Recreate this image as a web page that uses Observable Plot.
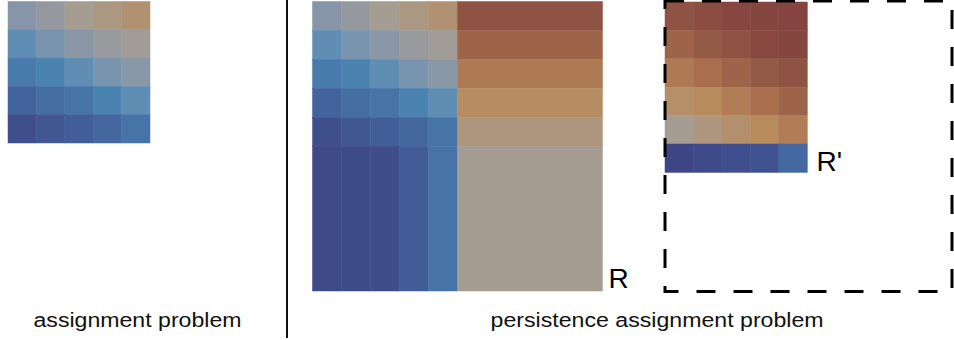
<!DOCTYPE html>
<html>
<head>
<meta charset="utf-8">
<script src="https://cdn.jsdelivr.net/npm/d3@7"></script>
<script src="https://cdn.jsdelivr.net/npm/@observablehq/plot@0.6"></script>
<style>
  html, body { margin: 0; padding: 0; background: #fff; }
  #chart svg { display: block; }
</style>
</head>
<body>
<div id="chart"></div>
<script>
// ---- data (values on a 0..10 cost scale) ----
const cost = [
  [4.9, 5.4, 6.0, 6.3, 6.6],
  [3.8, 4.5, 5.0, 5.5, 5.8],
  [2.8, 3.0, 3.8, 4.5, 5.0],
  [2.1, 2.4, 2.6, 3.0, 3.8],
  [1.0, 1.5, 1.9, 2.2, 2.6]
];
const rowToDiagonal = [9.3, 8.5, 7.6, 6.9, 6.4];
const colToDiagonal = [0.5, 0.7, 0.9, 1.8, 2.6];
const diagonalToDiagonal = 6.0;
const reduced = [
  [9.3, 9.6, 9.85, 9.9, 10.0],
  [8.5, 9.0, 9.3, 9.8, 9.9],
  [7.6, 8.0, 8.5, 9.0, 9.3],
  [6.8, 7.0, 7.5, 8.0, 8.5],
  [6.0, 6.4, 6.7, 7.0, 7.5],
  [0.1, 0.6, 1.0, 1.2, 2.25]
];
const captions = ["assignment problem", "persistence assignment problem"];
const matrixLabels = ["R", "R'"];
const rampStops = [0, 1, 2, 3, 4, 5, 6, 7, 8, 9, 10];
const rampColors = ["#3d4484", "#3f4e8c", "#42609c", "#4a82b0", "#6590b5", "#8a97a7",
                    "#a59d92", "#b88b5d", "#a86e4e", "#935a45", "#85443f"];

// ---- layout ----
function grid(matrix, x0, y0, cw, ch, tag) {
  const out = [];
  matrix.forEach((row, i) => row.forEach((v, j) => out.push({
    x1: x0 + j * cw, x2: x0 + (j + 1) * cw, y1: y0 + i * ch, y2: y0 + (i + 1) * ch, v, tag
  })));
  return out;
}
const cells = [];
// left: plain assignment problem
cells.push(...grid(cost, 8, 1.5, 28.4, 28.3, "C"));
// R: extended matrix
const rx = 312.5, ry = 1.5, rc = 29, rh = 28.95;
cells.push(...grid(cost, rx, ry, rc, rh, "R"));
rowToDiagonal.forEach((v, i) => cells.push({x1: rx + 5 * rc, x2: rx + 10 * rc, y1: ry + i * rh, y2: ry + (i + 1) * rh, v}));
colToDiagonal.forEach((v, j) => cells.push({x1: rx + j * rc, x2: rx + (j + 1) * rc, y1: ry + 5 * rh, y2: ry + 10 * rh, v}));
cells.push({x1: rx + 5 * rc, x2: rx + 10 * rc, y1: ry + 5 * rh, y2: ry + 10 * rh, v: diagonalToDiagonal});
// R': reduced matrix
cells.push(...grid(reduced, 665, 2, 28.46, 28.4, "R'"));

const captionPos = [{x: 137, y: 320.3, w: 208}, {x: 656.6, y: 320.3, w: 333}];
const captionData = captions.map((t, i) => ({t, ...captionPos[i]}));
const labelPos = [{x: 608, y: 279}, {x: 816, y: 162}];
const labelData = matrixLabels.map((t, i) => ({t, ...labelPos[i]}));

const svg = Plot.plot({
  width: 954,
  height: 340,
  margin: 0,
  style: {background: "#fff", fontFamily: "'Liberation Sans', Arial, sans-serif"},
  x: {type: "linear", domain: [0, 954], range: [0, 954], axis: null},
  y: {type: "linear", domain: [0, 340], range: [0, 340], axis: null},
  color: {type: "linear", domain: rampStops, range: rampColors, interpolate: "rgb"},
  marks: [
    Plot.rect(cells, {x1: "x1", x2: "x2", y1: "y1", y2: "y2", fill: "v", stroke: "v", strokeWidth: 0.5}),
    Plot.ruleX([286.5], {y1: 0, y2: 338, stroke: "#111", strokeWidth: 2}),
    Plot.rect([{x1: 665, x2: 952, y1: 1, y2: 291.5}], {x1: "x1", x2: "x2", y1: "y1", y2: "y2",
      fill: "none", stroke: "#000", strokeWidth: 3, strokeDasharray: "19,18"}),
    Plot.text(captionData, {x: "x", y: "y", text: "t", fontSize: 20, fill: "#111", textAnchor: "middle"}),
    Plot.text(labelData, {x: "x", y: "y", text: "t", fontSize: 28, fill: "#000", textAnchor: "start"})
  ]
});
document.getElementById("chart").appendChild(svg);

// stretch captions horizontally to the widths seen in the reference
const widths = new Map(captionData.map(d => [d.t, d.w]));
d3.select(svg).selectAll("text").each(function() {
  const t = this.textContent;
  if (widths.has(t)) {
    this.setAttribute("textLength", widths.get(t));
    this.setAttribute("lengthAdjust", "spacingAndGlyphs");
  }
});
</script>
</body>
</html>
